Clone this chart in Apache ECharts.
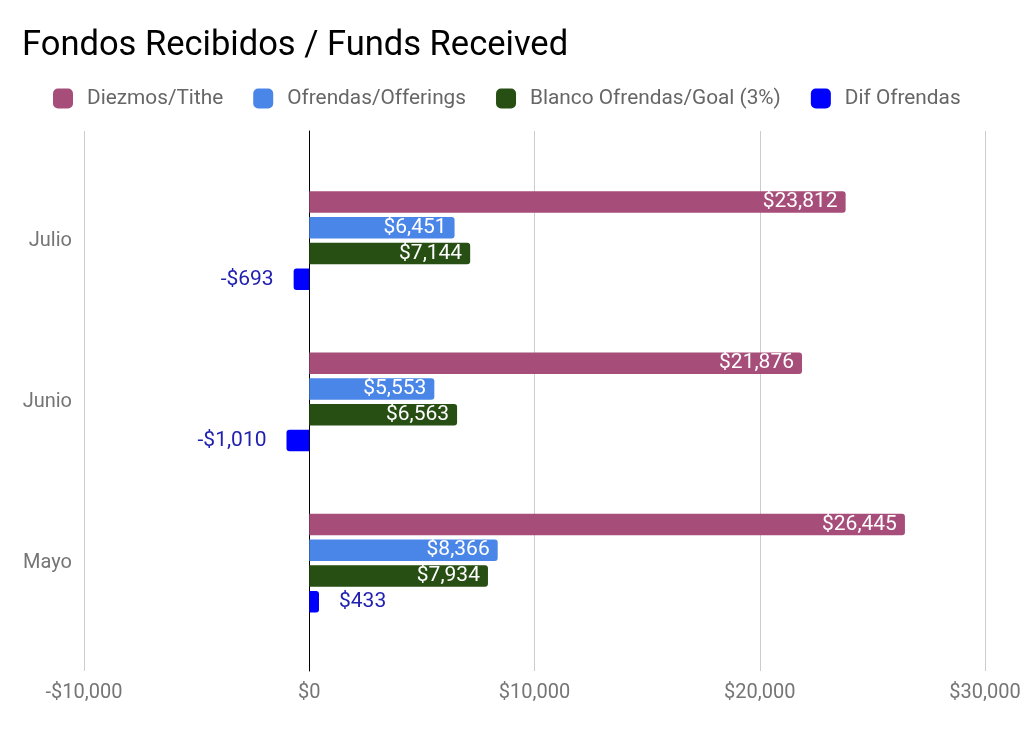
<!DOCTYPE html>
<html>
<head>
<meta charset="utf-8">
<script src="https://cdn.jsdelivr.net/npm/echarts@6/dist/echarts.min.js"></script>
<style>
  html, body { margin: 0; padding: 0; background: #fff; }
  #chart { width: 1024px; height: 735px; }
</style>
</head>
<body>
<div id="chart"></div>
<script>
// Fondos Recibidos
var months = ["Mayo", "Junio", "Julio"];
var seriesNames = ["Diezmos/Tithe", "Ofrendas/Offerings", "Blanco Ofrendas/Goal (3%)", "Dif Ofrendas"];
var diezmos = [26445, 21876, 23812];
var ofrendas = [8366, 5553, 6451];
var blanco = [7934, 6563, 7144];
var difOfrendas = [433, -1010, -693];
var xTicks = [-10000, 0, 10000, 20000, 30000];
var colors = ["#a64d79", "#4a86e8", "#274e13", "#0000ff"];

var FONT = "Roboto";

function money(v) {
  var s = "$" + Math.abs(v).toLocaleString("en-US");
  return v < 0 ? "-" + s : s;
}

function insideSeries(name, data, color) {
  return {
    name: name,
    type: "bar",
    xAxisIndex: 1,
    yAxisIndex: 1,
    barWidth: 21.5,
    barGap: "20%",
    data: data,
    itemStyle: { color: color, borderRadius: [0, 3, 3, 0] },
    label: {
      show: true,
      position: "insideRight",
      distance: 8,
      color: "#fff",
      fontFamily: FONT,
      fontSize: 21,
      formatter: function (p) { return money(p.value); }
    }
  };
}

var difData = difOfrendas.map(function (v) {
  return {
    value: v,
    itemStyle: { borderRadius: v < 0 ? [3, 0, 0, 3] : [0, 3, 3, 0] },
    label: { position: v < 0 ? "left" : "right" }
  };
});

var chart = echarts.init(document.getElementById("chart"));
var option = {
  backgroundColor: "#fff",
  animation: false,
  title: {
    text: "Fondos Recibidos / Funds Received",
    left: 22,
    top: 29,
    padding: 0,
    textStyle: { fontFamily: FONT, fontSize: 34.5, fontWeight: "normal", color: "#000" }
  },
  legend: {
    left: 53,
    top: 88,
    padding: 0,
    itemWidth: 20,
    itemHeight: 20,
    itemGap: 30,
    icon: "roundRect",
    data: seriesNames,
    textStyle: { fontFamily: FONT, fontSize: 20.8, color: "#666", padding: [0, 0, 0, 9] }
  },
  grid: [
    { left: 84, right: 39, top: 131, bottom: 64 },
    { left: 84, right: 39, top: 160, bottom: 91.25 }
  ],
  xAxis: [
    {
      type: "value",
      gridIndex: 0,
      min: xTicks[0],
      max: xTicks[xTicks.length - 1],
      interval: 10000,
      axisLine: { show: false },
      axisTick: { show: false },
      splitLine: { lineStyle: { color: "#cccccc", width: 1 } },
      axisLabel: {
        margin: 12,
        fontFamily: FONT,
        fontSize: 20,
        color: "#757575",
        formatter: function (v) { return money(v); }
      }
    },
    {
      type: "value",
      gridIndex: 1,
      min: xTicks[0],
      max: xTicks[xTicks.length - 1],
      interval: 10000,
      show: false
    }
  ],
  yAxis: [
    {
      type: "category",
      gridIndex: 0,
      data: [""],
      axisLine: { show: true, onZero: true, lineStyle: { color: "#000", width: 1 } },
      axisTick: { show: false },
      axisLabel: { show: false },
      splitLine: { show: false }
    },
    {
      type: "category",
      gridIndex: 1,
      data: months,
      axisLine: { show: false, onZero: false },
      axisTick: { show: false },
      axisLabel: { margin: 12, fontFamily: FONT, fontSize: 20, color: "#757575", padding: [6, 0, 0, 0] }
    }
  ],
  series: [
    insideSeries(seriesNames[0], diezmos, colors[0]),
    insideSeries(seriesNames[1], ofrendas, colors[1]),
    insideSeries(seriesNames[2], blanco, colors[2]),
    {
      name: seriesNames[3],
      type: "bar",
      xAxisIndex: 1,
      yAxisIndex: 1,
      barWidth: 21.5,
      barGap: "20%",
      data: difData,
      itemStyle: { color: colors[3] },
      label: {
        show: true,
        distance: 20,
        color: "#2121b0",
        fontFamily: FONT,
        fontSize: 21,
        formatter: function (p) { return money(p.value); }
      }
    }
  ]
};
chart.setOption(option);
</script>
</body>
</html>
